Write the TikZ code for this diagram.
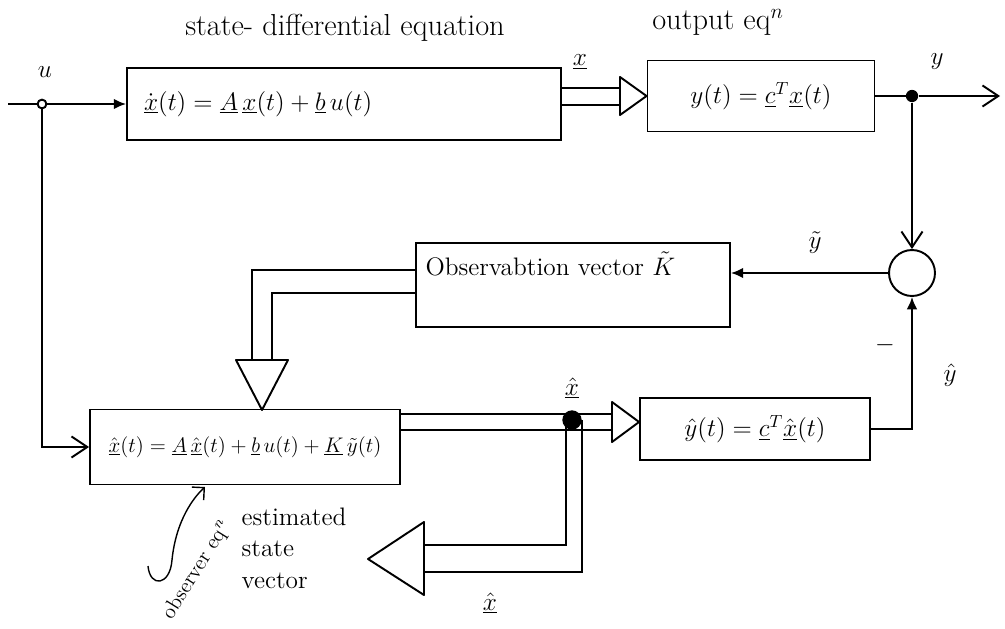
\documentclass[tikz,border=0pt]{standalone}
\usetikzlibrary{arrows.meta}
\tikzset{
  blockbox/.style={draw, line width=1.1pt, rectangle, inner sep=4pt},
  wire/.style={line width=1.1pt},
  fattip/.style={draw, line width=1.1pt, fill=white, line join=round},
  vtip/.style={-{Straight Barb[length=9pt,width=12pt]}},
  ftip/.style={-{Latex[length=7pt,width=6pt]}},
}
\begin{document}
\begin{tikzpicture}[x=0.02cm, y=-0.02cm, font=\Large]
  \useasboundingbox (0,0) rectangle (1005,629);
  % blocks
  \node[blockbox, minimum width=8.68cm, minimum height=1.44cm, text width=8cm, align=left] (state) at (344,104) {$\dot{\underline{x}}(t)= \underline{A}\,\underline{x}(t) + \underline{b}\,u(t)$};
  \node[blockbox, minimum width=4.54cm, minimum height=1.42cm] (out) at (761,96) {$y(t)= \underline{c}^{T}\underline{x}(t)$};
  \node[blockbox, minimum width=6.28cm, text height=0.5cm, text depth=0.9cm, text width=5.9cm, align=left] (gain) at (573,285) {Observabtion vector $\tilde{K}$};
  \node[blockbox, minimum width=6.2cm, minimum height=1.5cm, font=\large] (obsv) at (245,447) {$\hat{\underline{x}}(t) = \underline{A}\,\hat{\underline{x}}(t)+ \underline{b}\,u(t) + \underline{K}\,\tilde{y}(t)$};
  \node[blockbox, minimum width=4.6cm, minimum height=1.24cm] (est) at (755,429) {$\hat{y}(t)= \underline{c}^{T}\hat{\underline{x}}(t)$};
  \node[circle, draw, line width=1.1pt, minimum size=0.92cm, inner sep=0] (sum) at (912,273) {};
  \node[font=\LARGE] (statelbl) at (345,28) {state- differential equation};
  \node[font=\LARGE] (outlbl) at (718,22) {output eq$^{n}$};
  % input u
  \coordinate (in) at (8,104);
  \coordinate (ujn) at (42,104);
  \node (ulbl) at (45,72) {$u$};
  \draw[wire, ftip] (in) -- (state.west);
  \draw[wire, vtip] (ujn) |- (obsv.west);
  \draw[wire, fill=white] (ujn) circle (2.5pt);
  % state vector x
  \draw[wire] (state.east |- 0,88) -- (620,88);
  \draw[wire] (state.east |- 0,105) -- (620,105);
  \draw[fattip] (620,77) -- (out.west) -- (620,115) -- cycle;
  \node (xlbl) at (580,62) {$\underline{x}$};
  % output y
  \node[circle, fill, inner sep=0, minimum size=7pt] (ydot) at (912,96) {};
  \coordinate (yend) at (1000,96);
  \draw[wire] (out.east) -- (ydot);
  \draw[wire, vtip] (ydot) -- (yend);
  \node (ylbl) at (937,62) {$y$};
  \draw[wire, vtip] (ydot) -- (sum.north);
  % error to gain
  \draw[wire, ftip] (sum.west) -- (sum.west -| gain.east);
  \node (ytlbl) at (815,243) {$\tilde{y}$};
  \draw[wire] (gain.west |- 0,270) -| (252,360);
  \draw[wire] (gain.west |- 0,293) -| (272,360);
  \draw[fattip] (236,360) -- (262,410) -- (288,360) -- cycle;
  % estimate xhat
  \draw[wire] (obsv.east |- 0,414) -- (612,414);
  \draw[wire] (obsv.east |- 0,430) -- (612,430);
  \draw[fattip] (612,402) -- (est.west |- 0,422) -- (612,442) -- cycle;
  \node[circle, fill, inner sep=0, minimum size=11pt] (xdot) at (572,420) {};
  \node (xhlbl) at (572,388) {$\underline{\hat{x}}$};
  \draw[wire] (xdot.center) ++(-6,0) |- (424,545);
  \draw[wire] (xdot.center) ++(10,0) |- (424,572);
  \draw[fattip] (424,522) -- (368,559) -- (424,595) -- cycle;
  \node (xhlbl2) at (490,603) {$\underline{\hat{x}}$};
  \node[align=left] (estlbl) at (294,548) {estimated\\state\\vector};
  % yhat back to comparator
  \draw[wire, ftip] (est.east) -| (sum.south);
  \node (minus) at (885,345) {$-$};
  \node (yhlbl) at (950,375) {$\hat{y}$};
  % note
  \node[rotate=58, font=\large] (obsnote) at (197,570) {observer eq$^{n}$};
  \draw[line width=0.8pt, -{Straight Barb[length=5pt]}] (148,566) .. controls (150,588) and (170,586) .. (172,560) .. controls (176,520) and (194,497) .. (205,487);
\end{tikzpicture}
\end{document}
